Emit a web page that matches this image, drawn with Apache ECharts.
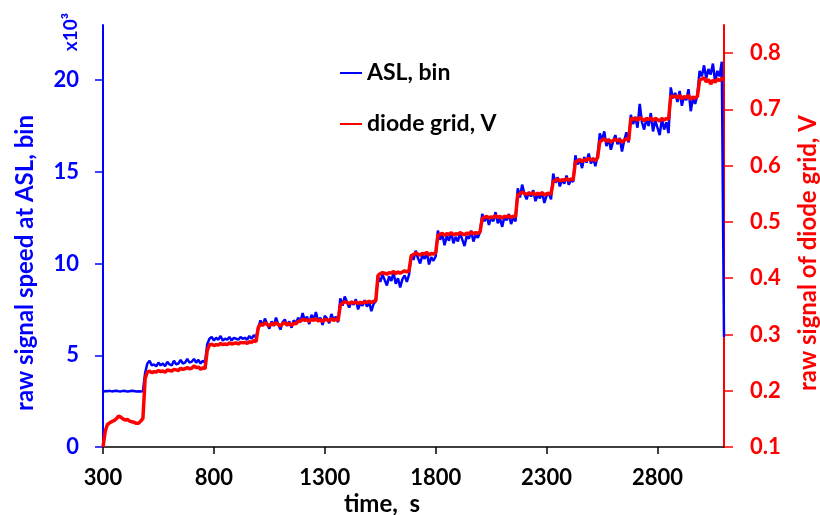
<!DOCTYPE html>
<html>
<head>
<meta charset="utf-8">
<script src="https://cdn.jsdelivr.net/npm/echarts@6/dist/echarts.min.js"></script>
<style>html,body{margin:0;padding:0;background:#fff}#c{width:820px;height:515px}</style>
</head>
<body>
<div id="c"></div>
<script>
// sampling: every 10 s starting at 300 s
const T0 = 300, DT = 10;
const xTicks = [300, 800, 1300, 1800, 2300, 2800];
const leftTicks = [0, 5, 10, 15, 20];
const rightTicks = [0.1, 0.2, 0.3, 0.4, 0.5, 0.6, 0.7, 0.8];
const legendNames = ['ASL, bin', 'diode grid, V'];

// ASL signal, x10^3 bin (one line per plateau)
const asl = [
  3.00,3.05,3.04,3.06,3.03,3.05,3.07,3.04,3.03,3.06,3.05,3.02,3.04,3.06,3.05,3.03,3.04,3.02,3.05,
  4.05,4.55,4.70,4.45,4.50,4.40,4.60,4.45,4.55,4.40,4.65,4.50,4.45,4.70,4.50,4.55,4.75,4.55,4.60,4.80,4.60,4.65,4.80,4.60,4.75,4.55,4.70,4.60,
  5.60,5.90,6.00,5.80,5.95,5.85,6.05,5.80,5.90,5.85,6.00,5.80,5.95,5.90,5.85,6.00,5.90,5.95,5.85,6.05,5.90,6.10,5.95,
  6.50,6.90,6.60,7.00,6.70,6.45,6.85,6.60,7.05,6.70,6.40,6.80,6.95,6.60,6.85,6.50,6.90,6.75,
  7.05,6.80,7.30,6.90,7.10,6.70,7.20,6.95,7.35,6.85,7.05,6.65,7.15,7.00,6.75,7.25,6.90,7.10,6.80,
  8.10,7.70,8.20,7.90,7.60,7.95,7.75,8.05,7.50,7.85,7.70,8.00,7.65,7.90,7.40,7.80,7.95,
  9.30,9.00,9.40,9.10,8.80,9.30,9.05,9.50,8.90,9.20,8.70,9.15,9.35,9.00,9.40,
  10.5,10.2,10.7,10.3,10.0,10.45,10.25,10.6,9.95,10.35,10.15,10.4,
  11.8,11.3,11.6,11.0,11.5,11.25,11.7,11.1,11.45,11.2,11.65,11.3,10.95,11.5,11.35,11.8,11.2,11.55,11.4,11.7,
  12.7,12.3,12.6,12.1,12.5,12.3,12.8,12.2,12.45,12.0,12.55,12.35,12.7,12.15,12.5,12.3,
  14.1,13.6,14.3,13.8,13.5,13.9,13.65,14.0,13.4,13.75,13.55,13.9,13.3,13.7,13.85,13.5,
  14.9,14.4,14.7,14.2,14.6,14.35,14.8,14.3,14.55,14.45,
  15.9,15.4,15.7,15.2,15.8,15.5,16.0,15.45,15.75,15.3,15.9,
  17.1,16.7,17.2,16.4,16.8,16.2,16.65,17.0,16.5,16.85,16.1,16.7,17.15,16.6,
  18.1,17.6,18.0,17.4,18.7,17.7,17.3,17.9,17.5,18.2,17.2,17.8,17.4,17.0,17.9,17.3,17.7,17.1,
  19.6,19.0,19.3,18.8,19.4,18.6,19.1,18.9,19.5,18.3,19.0,18.7,19.2,
  20.5,20.2,20.8,20.1,20.6,20.3,20.9,19.9,20.5,20.2,21.0,6.0
];

// diode grid signal, V (one line per plateau)
const diode = [
  0.100,0.128,0.140,0.143,0.145,0.147,0.150,0.155,0.153,0.150,0.148,0.149,0.146,0.145,0.144,0.142,0.142,0.146,0.151,
  0.222,0.233,0.235,0.232,0.234,0.233,0.236,0.234,0.235,0.233,0.237,0.236,0.235,0.238,0.237,0.236,0.240,0.238,0.239,0.241,0.239,0.240,0.244,0.241,0.242,0.238,0.241,0.239,
  0.272,0.281,0.283,0.280,0.282,0.281,0.284,0.282,0.283,0.282,0.285,0.283,0.284,0.285,0.283,0.286,0.285,0.286,0.284,0.287,0.286,0.289,0.287,
  0.312,0.319,0.316,0.321,0.318,0.315,0.320,0.317,0.321,0.318,0.315,0.319,0.321,0.317,0.320,0.316,0.320,0.319,
  0.323,0.324,0.327,0.325,0.326,0.323,0.327,0.325,0.328,0.324,0.326,0.323,0.327,0.326,0.324,0.328,0.325,0.327,0.325,
  0.352,0.356,0.358,0.357,0.355,0.357,0.356,0.358,0.355,0.357,0.356,0.358,0.357,0.359,0.357,0.359,0.360,
  0.405,0.408,0.410,0.409,0.407,0.410,0.409,0.412,0.408,0.411,0.409,0.411,0.413,0.411,0.414,
  0.440,0.442,0.445,0.443,0.441,0.444,0.443,0.446,0.441,0.444,0.443,0.445,
  0.476,0.478,0.480,0.476,0.479,0.478,0.481,0.477,0.479,0.478,0.481,0.479,0.477,0.480,0.479,0.482,0.479,0.481,0.480,0.482,
  0.506,0.508,0.510,0.507,0.509,0.508,0.511,0.508,0.510,0.507,0.510,0.509,0.511,0.508,0.510,0.509,
  0.548,0.550,0.553,0.551,0.549,0.551,0.550,0.552,0.548,0.551,0.549,0.552,0.548,0.550,0.551,0.549,
  0.572,0.574,0.576,0.573,0.575,0.574,0.577,0.574,0.576,0.575,
  0.607,0.608,0.611,0.607,0.611,0.609,0.613,0.610,0.612,0.609,0.614,
  0.643,0.645,0.648,0.643,0.646,0.642,0.645,0.647,0.644,0.646,0.642,0.645,0.648,0.645,
  0.684,0.682,0.685,0.680,0.686,0.683,0.680,0.684,0.682,0.685,0.680,0.684,0.682,0.679,0.684,0.681,0.684,0.682,
  0.724,0.722,0.724,0.720,0.725,0.719,0.723,0.721,0.725,0.718,0.722,0.720,0.723,
  0.752,0.754,0.756,0.749,0.753,0.745,0.752,0.748,0.754,0.751,0.755,0.754
];

const BLUE = '#0000ff', RED = '#ff0000';
const FONT = 'Lato';
const toPairs = arr => arr.map((v, i) => [T0 + DT * i, v]);

const chart = echarts.init(document.getElementById('c'), null, {renderer: 'canvas'});
chart.setOption({
  animation: false,
  backgroundColor: '#fff',
  grid: {left: 103, right: 96, top: 25, bottom: 68, containLabel: false},
  legend: {
    data: legendNames, orient: 'vertical', left: 335, top: 55,
    icon: 'rect', itemWidth: 22, itemHeight: 2, itemGap: 25, itemTextGap: 3,
    textStyle: {fontFamily: FONT, fontWeight: 'bold', fontSize: 23, color: '#000', lineHeight: 26}
  },
  xAxis: {
    type: 'value', min: 300, max: 3100,
    axisLine: {onZero: false, lineStyle: {color: '#000', width: 1.5}},
    axisTick: {show: true, length: 7, inside: false, customValues: xTicks, lineStyle: {color: '#000', width: 1.5}},
    axisLabel: {customValues: xTicks, margin: 20, formatter: v => String(v), fontFamily: FONT, fontWeight: 'bold', fontSize: 22, color: '#000'},
    splitLine: {show: false}
  },
  yAxis: [{
    type: 'value', position: 'left', min: 0, max: 23,
    axisLine: {show: true, lineStyle: {color: BLUE, width: 2}},
    axisTick: {show: true, length: 8, customValues: leftTicks, lineStyle: {color: BLUE, width: 1.5}},
    axisLabel: {customValues: leftTicks, margin: 24, formatter: v => String(v), fontFamily: FONT, fontWeight: 'bold', fontSize: 22, color: BLUE},
    splitLine: {show: false}
  }, {
    type: 'value', position: 'right', min: 0.1, max: 0.85,
    axisLine: {show: true, lineStyle: {color: RED, width: 2}},
    axisTick: {show: true, length: 9, customValues: rightTicks, lineStyle: {color: RED, width: 1.5}},
    axisLabel: {customValues: rightTicks, margin: 26, formatter: v => v.toFixed(1), fontFamily: FONT, fontWeight: 'bold', fontSize: 22, color: RED},
    splitLine: {show: false}
  }],
  series: [{
    name: legendNames[0], type: 'line', yAxisIndex: 0, showSymbol: false, symbol: 'none',
    data: toPairs(asl), lineStyle: {color: BLUE, width: 2.5}, itemStyle: {color: BLUE}, z: 3
  }, {
    name: legendNames[1], type: 'line', yAxisIndex: 1, showSymbol: false, symbol: 'none',
    data: toPairs(diode), lineStyle: {color: RED, width: 3.5}, itemStyle: {color: RED}, z: 4
  }],
  graphic: [
    {type: 'text', x: 25, y: 263, rotation: Math.PI / 2,
     style: {text: 'raw signal speed at ASL, bin', fill: BLUE, font: 'bold 24px Lato', textAlign: 'center', textVerticalAlign: 'middle'}},
    {type: 'text', x: 808, y: 253, rotation: Math.PI / 2,
     style: {text: 'raw signal of diode grid, V', fill: RED, font: 'bold 24px Lato', textAlign: 'center', textVerticalAlign: 'middle'}},
    {type: 'text', x: 71, y: 32, rotation: Math.PI / 2,
     style: {text: 'x10³', fill: BLUE, font: 'bold 19px Lato', textAlign: 'center', textVerticalAlign: 'middle'}},
    {type: 'text', x: 382, y: 504,
     style: {text: 'time,  s', fill: '#000', font: 'bold 24px Lato', textAlign: 'center', textVerticalAlign: 'middle'}}
  ]
});
</script>
</body>
</html>
